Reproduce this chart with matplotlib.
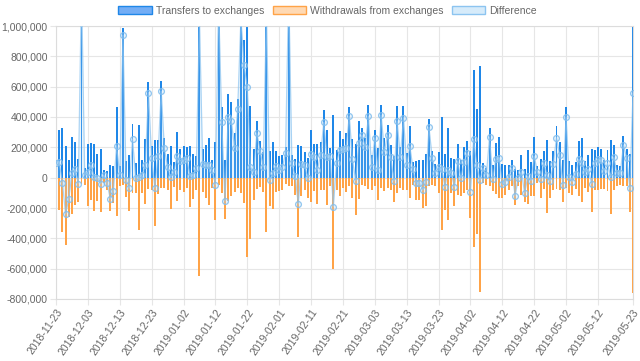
import numpy as np
import pandas as pd
import matplotlib
matplotlib.use("Agg")
import matplotlib.pyplot as plt
from matplotlib.patches import Patch
from matplotlib.ticker import FuncFormatter, MultipleLocator

plt.rcParams['font.family'] = ['Liberation Sans', 'DejaVu Sans']

dates = pd.date_range("2018-11-23", "2019-05-23", freq="D")

transfers_k = [
    386, 316, 327, 206, 118, 268, 232, 123, 1300, 66,
    224, 228, 224, 156, 189, 53, 46, 83, 79, 465,
    75, 990, 112, 151, 355, 100, 349, 118, 254, 634,
    210, 250, 250, 638, 261, 156, 206, 101, 298, 191,
    210, 200, 206, 156, 145, 1700, 189, 217, 261, 118,
    232, 1200, 465, 118, 553, 496, 294, 520, 1150, 908,
    1120, 474, 189, 371, 239, 167, 1450, 173, 235, 173,
    140, 151, 200, 1300, 151, 123, 217, 210, 167, 129,
    316, 224, 224, 232, 447, 316, 197, 414, 180, 305,
    256, 294, 463, 254, 224, 371, 327, 261, 480, 151,
    316, 195, 480, 261, 349, 217, 140, 474, 202, 474,
    162, 342, 101, 107, 114, 118, 158, 386, 178, 90,
    169, 397, 156, 327, 129, 123, 221, 118, 202, 243,
    173, 710, 452, 737, 96, 64, 325, 81, 228, 265,
    92, 86, 86, 118, 57, 53, 151, 59, 180, 104,
    265, 75, 123, 173, 250, 112, 173, 338, 232, 114,
    469, 107, 86, 101, 243, 261, 107, 151, 189, 180,
    202, 189, 118, 184, 246, 217, 86, 75, 272, 189,
    158, 1320,
]

withdrawals_k = [
    -287, -210, -360, -445, -259, -240, -178, -162, -40, -50,
    -189, -145, -221, -156, -228, -35, -79, -221, -167, -254,
    -57, -50, -130, -221, -100, -100, -342, -100, -171, -73,
    -79, -316, -105, -68, -68, -83, -204, -64, -156, -79,
    -96, -68, -193, -140, -83, -650, -96, -134, -178, -68,
    -279, -46, -100, -272, -156, -123, -96, -68, -100, -167,
    -522, -404, -149, -75, -61, -96, -355, -189, -206, -96,
    -90, -83, -40, -57, -57, -112, -390, -118, -83, -134,
    -162, -90, -171, -83, -83, -178, -57, -605, -83, -123,
    -68, -96, -57, -134, -243, -140, -46, -57, -75, -79,
    -53, -145, -68, -90, -68, -83, -162, -100, -68, -79,
    -79, -134, -46, -145, -149, -200, -184, -53, -46, -57,
    -100, -342, -215, -276, -100, -184, -112, -123, -100, -79,
    -265, -458, -371, -754, -35, -46, -57, -90, -105, -134,
    -134, -112, -83, -57, -178, -57, -112, -162, -171, -123,
    -123, -35, -134, -75, -232, -134, -83, -75, -83, -162,
    -68, -100, -112, -75, -123, -162, -68, -96, -228, -83,
    -79, -75, -75, -90, -240, -83, -57, -46, -57, -57,
    -228, -763,
]

transfers = np.array(transfers_k) * 1000
withdrawals = np.array(withdrawals_k) * 1000
difference = transfers + withdrawals

series_labels = ["Transfers to exchanges", "Withdrawals from exchanges", "Difference"]

blue = "#1f87e8"
orange = "#ffa347"
diff_line = (0.55, 0.77, 0.94, 0.7)
diff_fill = (0.62, 0.81, 0.96, 0.22)
text_col = "#666666"
grid_col = "#e6e6e6"

fig = plt.figure(figsize=(6.40, 3.61), dpi=100)
ax = fig.add_axes([56/640, 1-299/361, (633-56)/640, (299-26)/361])

x = np.arange(len(dates))
ax.bar(x, transfers, width=0.62, color=blue, zorder=2)
ax.bar(x, withdrawals, width=0.62, color=orange, zorder=2)
ax.fill_between(x, difference, 0, color=diff_fill, linewidth=0, zorder=3)
ax.plot(x, difference, color=diff_line, linewidth=0.9, zorder=4,
        marker="o", markersize=4.2, markerfacecolor=(0.72, 0.86, 0.97, 0.3),
        markeredgecolor=(0.50, 0.74, 0.93, 0.85), markeredgewidth=0.9)

ax.set_xlim(0, len(dates) - 1)
ax.set_ylim(-800000, 1000000)
ax.yaxis.set_major_locator(MultipleLocator(200000))
ax.yaxis.set_major_formatter(FuncFormatter(lambda v, p: f"{int(v):,}"))

tick_pos = list(range(0, len(dates) - 10, 10)) + [len(dates) - 1]
ax.set_xticks(tick_pos)
ax.set_xticklabels([dates[i].strftime("%Y-%m-%d") for i in tick_pos],
                   rotation=55, ha="right", rotation_mode="anchor")

ax.grid(True, color=grid_col, linewidth=0.8, zorder=0)
ax.set_axisbelow(True)
for s in ax.spines.values():
    s.set_color("#dcdcdc")
    s.set_linewidth(0.8)
ax.tick_params(axis="both", colors=grid_col, labelcolor=text_col, labelsize=7.5,
               length=4, width=0.8, pad=2)

handles = [
    Patch(facecolor=(0.45, 0.68, 0.96), edgecolor=blue, linewidth=1.0),
    Patch(facecolor=(1.0, 0.85, 0.70), edgecolor=orange, linewidth=1.0),
    Patch(facecolor=(0.84, 0.92, 0.98), edgecolor=(0.55, 0.77, 0.94), linewidth=1.0),
]
fig.legend(handles, series_labels, loc="upper center", bbox_to_anchor=(0.512, 1.01),
           ncol=3, frameon=False, fontsize=7.5, labelcolor=text_col,
           handlelength=3.2, handleheight=0.9, handletextpad=0.4, columnspacing=0.8)

fig.savefig("out.png", dpi=100)
